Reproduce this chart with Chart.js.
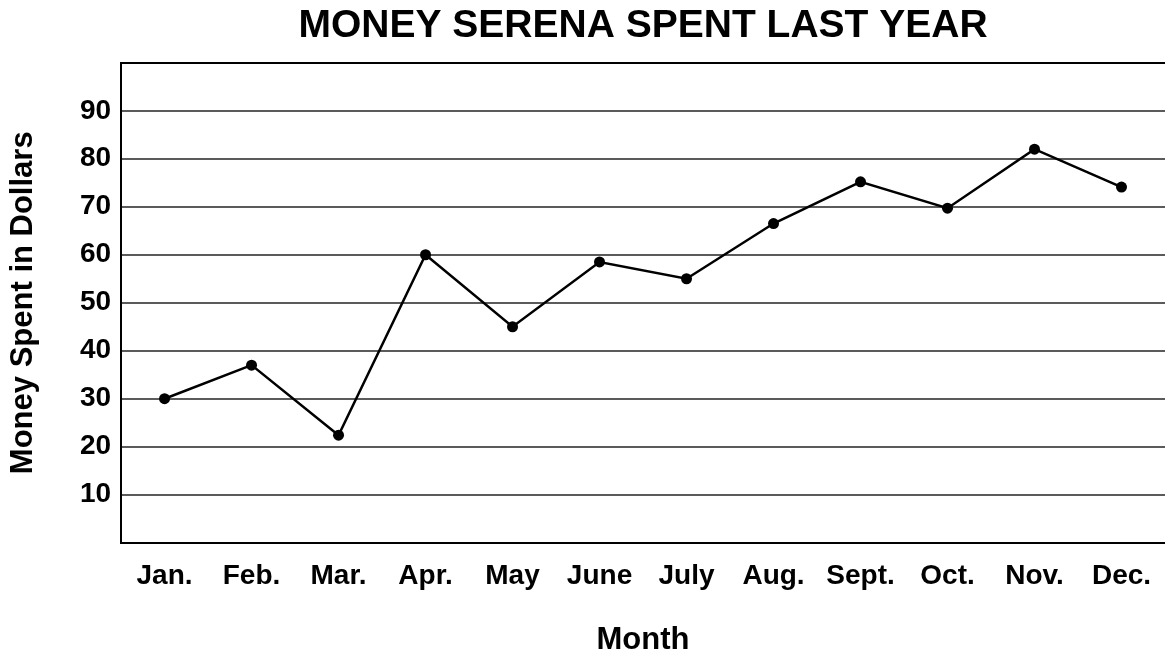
<!DOCTYPE html>
<html>
<head>
<meta charset="utf-8">
<script src="https://cdn.jsdelivr.net/npm/chart.js@4.4.1/dist/chart.umd.min.js"></script>
<style>
  html, body { margin: 0; padding: 0; background: #fff; }
  #wrap { width: 1165px; height: 654px; }
</style>
</head>
<body>
<div id="wrap"><canvas id="c" width="1165" height="654"></canvas></div>
<script>
const months = ['Jan.', 'Feb.', 'Mar.', 'Apr.', 'May', 'June', 'July', 'Aug.', 'Sept.', 'Oct.', 'Nov.', 'Dec.'];
const moneySpent = [30, 37, 22.4, 60, 45, 58.5, 55, 66.5, 75.2, 69.7, 82, 74.1];
const yMin = 0;
const yMax = 100;
const yStep = 10;
const chartTitle = 'MONEY SERENA SPENT LAST YEAR';
const xTitle = 'Month';
const yTitle = 'Money Spent in Dollars';

const FONT = "'Liberation Sans', Arial, Helvetica, sans-serif";

new Chart(document.getElementById('c'), {
  type: 'line',
  data: {
    labels: months,
    datasets: [{
      data: moneySpent,
      borderColor: '#000',
      borderWidth: 2.5,
      backgroundColor: '#000',
      pointBackgroundColor: '#000',
      pointBorderWidth: 0,
      pointRadius: 5.5,
      tension: 0,
      fill: false
    }]
  },
  options: {
    responsive: false,
    animation: false,
    devicePixelRatio: 1,
    layout: { padding: 0, autoPadding: false },
    plugins: {
      legend: { display: false },
      tooltip: { enabled: false },
      title: {
        display: true,
        text: chartTitle,
        fullSize: false,
        color: '#000',
        font: { family: FONT, size: 39, weight: 'bold' },
        padding: { top: 3, bottom: 13 }
      }
    },
    scales: {
      x: {
        type: 'category',
        position: 'bottom',
        offset: true,
        afterFit: (axis) => { axis.paddingLeft = 0; axis.paddingRight = 0; },
        grid: { display: false, drawTicks: false },
        border: { display: true, color: '#000', width: 2 },
        ticks: {
          color: '#000',
          padding: 17,
          maxRotation: 0,
          autoSkip: false,
          font: { family: FONT, size: 28, weight: 'bold' }
        },
        title: {
          display: true,
          text: xTitle,
          color: '#000',
          font: { family: FONT, size: 31, weight: 'bold' },
          padding: { top: 12, bottom: -5.5 }
        }
      },
      x2: {
        type: 'category',
        position: 'top',
        offset: true,
        afterFit: (axis) => { axis.paddingLeft = 0; axis.paddingRight = 0; },
        grid: { display: false, drawTicks: false },
        border: { display: true, color: '#000', width: 2 },
        ticks: { display: false }
      },
      y: {
        type: 'linear',
        min: yMin,
        max: yMax,
        afterBuildTicks: (axis) => {
          axis.ticks = axis.ticks.filter(t => t.value > yMin && t.value < yMax);
        },
        grid: { display: true, drawTicks: false, color: '#5b5b5b', lineWidth: 2 },
        border: { display: true, color: '#000', width: 2 },
        ticks: {
          stepSize: yStep,
          color: '#000',
          padding: 10,
          font: { family: FONT, size: 28, weight: 'bold' }
        },
        title: {
          display: true,
          text: yTitle,
          color: '#000',
          font: { family: FONT, size: 31, weight: 'bold' },
          padding: { top: 4.4, bottom: 28.3 }
        }
      }
    }
  }
});
</script>
</body>
</html>
